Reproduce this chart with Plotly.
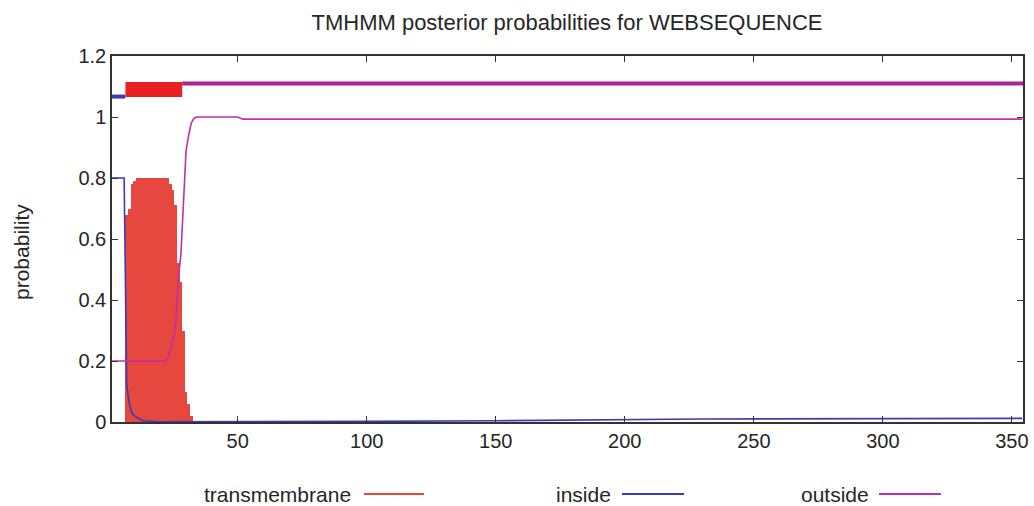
import plotly.graph_objects as go

# ---------------- data ----------------
# residue positions with detailed readings (N-terminal region)
pos = list(range(1, 37))
transmembrane = [0, 0, 0, 0, 0, 0, 0.68, 0.70, 0.78, 0.79,
                 0.80, 0.80, 0.80, 0.80, 0.80, 0.80, 0.80, 0.80, 0.80, 0.80,
                 0.80, 0.80, 0.80, 0.78, 0.76, 0.71, 0.52, 0.46, 0.30, 0.10,
                 0.06, 0.02, 0, 0, 0, 0]
inside_head = [0.80, 0.80, 0.80, 0.80, 0.80, 0.80, 0.12, 0.06, 0.03, 0.02,
               0.015, 0.01, 0.006, 0.004, 0.003, 0.002, 0.002, 0.001, 0.001, 0.001,
               0.001, 0.001, 0.001, 0.001, 0.001, 0.001, 0.001, 0.001, 0.001, 0.001,
               0.001, 0.001, 0.001, 0.001, 0.001, 0.001]
outside_head = [0.20, 0.20, 0.20, 0.20, 0.20, 0.20, 0.20, 0.20, 0.20, 0.20,
                0.20, 0.20, 0.20, 0.20, 0.20, 0.20, 0.20, 0.20, 0.20, 0.20,
                0.20, 0.20, 0.21, 0.24, 0.27, 0.32, 0.47, 0.55, 0.70, 0.89,
                0.94, 0.98, 0.995, 1.0, 1.0, 1.0]
# C-terminal tail readings
inside_tail_pos = [60, 100, 150, 230, 354]
inside_tail = [0.001, 0.002, 0.004, 0.010, 0.012]
outside_tail_pos = [50, 52, 354]
outside_tail = [1.0, 0.993, 0.993]

# predicted topology segments (start, end, level)
topo_names = ["inside", "transmembrane", "outside"]
topo_start = [1, 7, 29]
topo_end = [6, 28, 354]
topo_level = [1.067, 1.09, 1.11]

y_ticks = [0, 0.2, 0.4, 0.6, 0.8, 1.0, 1.2]
y_ticklabels = ["0", "0.2", "0.4", "0.6", "0.8", "1", "1.2"]
x_ticks = [50, 100, 150, 200, 250, 300, 350]

title = "TMHMM posterior probabilities for WEBSEQUENCE"
legend_labels = ["transmembrane", "inside", "outside"]

# ---------------- style ----------------
FONT = "Liberation Sans, Arial, Helvetica, sans-serif"
C_TM_FILL = "#e6473f"
C_TM_BAR = "#e82222"
C_IN = "#3b3bb5"
C_OUT = "#c22fa6"
C_OUT_BAR = "#a7259a"
TXT = "#262626"

W, H = 1034, 506
PL, PR, PT, PB = 112, 1023, 56, 422  # plot box in page px
PW, PHt = PR - PL, PB - PT


def px_x(p):  # page px -> paper x
    return (p - PL) / PW


def px_y(p):  # page px -> paper y
    return (PB - p) / PHt


fig = go.Figure()

fig.add_trace(go.Bar(x=pos, y=transmembrane, width=1.0,
                     marker=dict(color=C_TM_FILL, line=dict(width=0)),
                     showlegend=False, name="transmembrane"))

fig.add_trace(go.Scatter(x=pos + inside_tail_pos, y=inside_head + inside_tail,
                         mode="lines", line=dict(color=C_IN, width=1.6),
                         showlegend=False, name="inside"))
fig.add_trace(go.Scatter(x=pos + outside_tail_pos, y=outside_head + outside_tail,
                         mode="lines", line=dict(color=C_OUT, width=1.6),
                         showlegend=False, name="outside"))

bar_style = {"inside": (C_IN, 4), "transmembrane": (C_TM_BAR, 15), "outside": (C_OUT_BAR, 4)}
for nm, s, e, lv in zip(topo_names, topo_start, topo_end, topo_level):
    col, w = bar_style[nm]
    fig.add_trace(go.Scatter(x=[s - 0.5, min(e + 0.5, 354.3)], y=[lv, lv], mode="lines",
                             line=dict(color=col, width=w), showlegend=False,
                             hoverinfo="skip"))

axis_common = dict(showgrid=False, zeroline=False, showline=True, linecolor="#333",
                   linewidth=1.5, mirror="ticks", ticks="inside", ticklen=6,
                   tickcolor="#333", tickwidth=1.2, ticklabeloverflow="allow",
                   automargin=False,
                   tickfont=dict(family=FONT, size=20, color=TXT))

fig.update_layout(
    width=W, height=H,
    margin=dict(l=PL, r=W - PR, t=PT, b=H - PB, pad=0, autoexpand=False),
    paper_bgcolor="white", plot_bgcolor="white",
    bargap=0,
    title=dict(text=title, x=px_x(567), xref="paper", xanchor="center",
               y=1 - 22 / H, yanchor="middle",
               font=dict(family=FONT, size=22, color=TXT)),
    xaxis=dict(range=[1.3, 354.3], tickvals=x_ticks, **axis_common),
    yaxis=dict(range=[0, 1.2], tickvals=y_ticks, ticktext=y_ticklabels, **axis_common),
    showlegend=False,
)

# y axis label
fig.add_annotation(text="probability", xref="paper", yref="paper",
                   x=px_x(22), y=px_y(252), textangle=-90, showarrow=False,
                   xanchor="center", yanchor="middle",
                   font=dict(family=FONT, size=21, color=TXT))

# custom legend: text followed by line sample
leg_colors = [C_TM_FILL, C_IN, C_OUT]
leg_text_right = [353, 613, 871]
leg_line = [(364, 424), (622, 684), (879, 941)]
leg_y = px_y(494)
for lab, col, xr, (x0, x1) in zip(legend_labels, leg_colors, leg_text_right, leg_line):
    fig.add_annotation(text=lab, xref="paper", yref="paper", x=px_x(xr), y=leg_y,
                       xanchor="right", yanchor="middle", showarrow=False,
                       font=dict(family=FONT, size=21, color=TXT))
    fig.add_shape(type="line", xref="paper", yref="paper", x0=px_x(x0), x1=px_x(x1),
                  y0=leg_y, y1=leg_y, line=dict(color=col, width=1.8))

fig.write_html(
    "out.html",
    config={"displayModeBar": False},
    post_script="document.body.style.margin='0';document.body.style.overflow='hidden';",
)
